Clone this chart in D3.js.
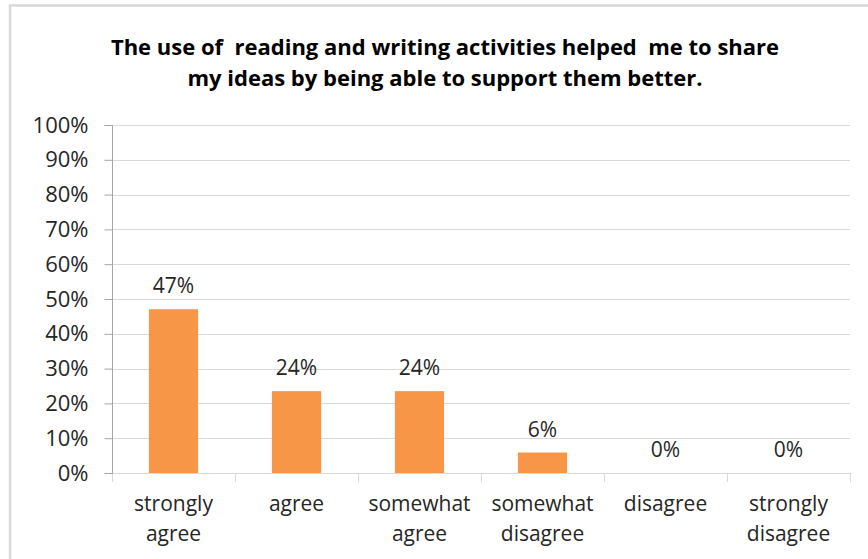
<!DOCTYPE html>
<html>
<head>
<meta charset="utf-8">
<script src="https://cdn.jsdelivr.net/npm/d3@7"></script>
<style>
  body { margin: 0; background: #fff; }
  svg { display: block; }
  text { font-family: "Open Sans", sans-serif; fill: #262626; }
</style>
</head>
<body>
<div id="chart-container"></div>
<script>
// chart data
const titleLines = [
    "The use of  reading and writing activities helped  me to share",
    "my ideas by being able to support them better."
];
const categories = ["strongly agree", "agree", "somewhat agree", "somewhat disagree", "disagree", "strongly disagree"];
const categoryLines = [["strongly", "agree"], ["agree"], ["somewhat", "agree"], ["somewhat", "disagree"], ["disagree"], ["strongly", "disagree"]];
const values = [0.4706, 0.2353, 0.2353, 0.0588, 0, 0];
const yTicks = [0, 0.1, 0.2, 0.3, 0.4, 0.5, 0.6, 0.7, 0.8, 0.9, 1];

const width = 868;
const height = 559;
const margin = { top: 125, right: 18, bottom: 86, left: 112 };

const svg = d3.select("#chart-container")
    .append("svg")
    .attr("width", width)
    .attr("height", height);

// outer chart border (right/bottom fall outside the picture)
svg.append("rect")
    .attr("x", 10).attr("y", 5.5)
    .attr("width", width + 20).attr("height", height + 20)
    .attr("fill", "none")
    .attr("stroke", "#d9d9d9")
    .attr("stroke-width", 2.5);

// title
svg.append("g")
    .selectAll("text")
    .data(titleLines)
    .join("text")
    .attr("x", 445)
    .attr("y", (d, i) => 55 + i * 31)
    .attr("text-anchor", "middle")
    .style("white-space", "pre")
    .style("font-size", "22px")
    .style("font-weight", "bold")
    .style("fill", "#000")
    .text(d => d);

const x = d3.scaleBand()
    .domain(categories)
    .range([margin.left, width - margin.right])
    .paddingInner(0.6)
    .paddingOuter(0.3);

const y = d3.scaleLinear()
    .domain([0, 1])
    .range([height - margin.bottom, margin.top]);

// gridlines
svg.append("g")
    .selectAll("line")
    .data(yTicks.slice(1))
    .join("line")
    .attr("x1", margin.left).attr("x2", width - margin.right)
    .attr("y1", d => Math.round(y(d)) + 0.5).attr("y2", d => Math.round(y(d)) + 0.5)
    .attr("stroke", "#d9d9d9");

// x axis
const step = x.step();
const xAxis = svg.append("g");
xAxis.append("line")
    .attr("x1", margin.left).attr("x2", width - margin.right)
    .attr("y1", y(0) + 0.5).attr("y2", y(0) + 0.5)
    .attr("stroke", "#d9d9d9");
xAxis.selectAll(".tick")
    .data(d3.range(categories.length + 1))
    .join("line")
    .attr("x1", i => Math.round(margin.left + i * step) + 0.5)
    .attr("x2", i => Math.round(margin.left + i * step) + 0.5)
    .attr("y1", y(0)).attr("y2", y(0) + 9)
    .attr("stroke", "#d9d9d9");

xAxis.selectAll(".cat")
    .data(categories)
    .join("text")
    .attr("text-anchor", "middle")
    .style("font-size", "21px")
    .each(function(d, i) {
        d3.select(this).selectAll("tspan")
            .data(categoryLines[i])
            .join("tspan")
            .attr("x", x(d) + x.bandwidth() / 2)
            .attr("y", (t, j) => 511 + j * 30)
            .text(t => t);
    });

// y axis
const yAxis = svg.append("g")
    .attr("transform", `translate(${margin.left + 0.5},0)`)
    .call(d3.axisLeft(y).tickValues(yTicks).tickFormat(d3.format(".0%")).tickSize(8).tickPadding(16));
yAxis.select(".domain").attr("stroke", "#a6a6a6").attr("d", `M-8,${y(1) + 0.5}H0V${y(0) + 0.5}`);
yAxis.selectAll(".tick line").attr("stroke", "#a6a6a6");
yAxis.selectAll(".tick text")
    .style("font-size", "22px")
    .style("font-family", "'Open Sans', sans-serif")
    .attr("fill", "#262626");

// bars
svg.append("g")
    .selectAll("rect")
    .data(values)
    .join("rect")
    .attr("x", (d, i) => x(categories[i]))
    .attr("y", d => y(d))
    .attr("width", x.bandwidth())
    .attr("height", d => y(0) - y(d))
    .attr("fill", "#f79646");

// data labels
svg.append("g")
    .selectAll("text")
    .data(values)
    .join("text")
    .attr("x", (d, i) => x(categories[i]) + x.bandwidth() / 2)
    .attr("y", d => y(d) - 16)
    .attr("text-anchor", "middle")
    .style("font-size", "21px")
    .text(d => d3.format(".0%")(d));
</script>
</body>
</html>
